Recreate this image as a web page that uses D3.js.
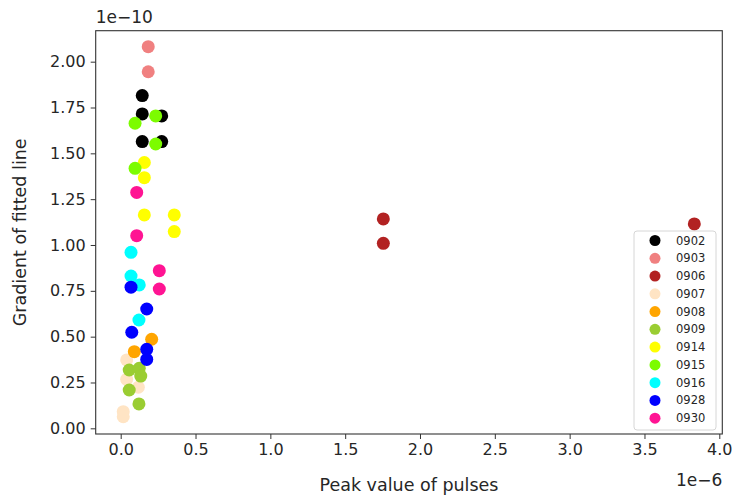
<html>
  <meta charset="utf-8" />
  <script src="https://d3js.org/d3.v7.min.js"></script>
  <style>
    body { margin: 0; background: #fff; }
    text { font-family: "DejaVu Sans", sans-serif; fill: #262626; }
  </style>
  <body>
    <div id="chart"></div>
    <script>
      // dates of each run, one colour per run
      const runs = ["0902", "0903", "0906", "0907", "0908", "0909", "0914", "0915", "0916", "0928", "0930"];
      const colors = ["black", "lightcoral", "firebrick", "bisque", "orange", "yellowgreen", "yellow", "lawngreen", "cyan", "blue", "deeppink"];

      // peak value of pulses (x 1e-6), per run
      const peaks = [
        [0.144, 0.144, 0.274, 0.144, 0.274],
        [0.184, 0.184],
        [1.755, 1.755, 3.833],
        [0.04, 0.04, 0.118, 0.017, 0.017],
        [0.207, 0.091],
        [0.057, 0.124, 0.134, 0.057, 0.122],
        [0.158, 0.158, 0.158, 0.358, 0.358],
        [0.096, 0.234, 0.234, 0.096],
        [0.069, 0.069, 0.124, 0.122],
        [0.069, 0.174, 0.074, 0.174, 0.174],
        [0.107, 0.107, 0.258, 0.258]
      ];
      // gradient of fitted line (x 1e-10), per run
      const gradients = [
        [1.815, 1.715, 1.704, 1.564, 1.564],
        [2.082, 1.945],
        [1.142, 1.009, 1.115],
        [0.373, 0.267, 0.224, 0.091, 0.063],
        [0.486, 0.418],
        [0.318, 0.327, 0.285, 0.209, 0.133],
        [1.45, 1.367, 1.164, 1.164, 1.073],
        [1.664, 1.704, 1.551, 1.418],
        [0.96, 0.831, 0.782, 0.591],
        [0.77, 0.651, 0.524, 0.431, 0.376],
        [1.287, 1.051, 0.86, 0.76]
      ];

      const xTicks = [0, 0.5, 1, 1.5, 2, 2.5, 3, 3.5, 4];
      const yTicks = [0, 0.25, 0.5, 0.75, 1, 1.25, 1.5, 1.75, 2];

      const W = 732, H = 498;
      const plotLeft = 95.7, plotRight = 722.3, plotTop = 30.7, plotBottom = 434;

      const svg = d3.select("#chart").append("svg").attr("width", W).attr("height", H);

      const x = d3.scaleLinear().domain([-0.167, 4.02]).range([plotLeft, plotRight]);
      const y = d3.scaleLinear().domain([-0.031, 2.169]).range([plotBottom, plotTop]);

      // axes
      const xAxis = svg.append("g")
        .attr("transform", `translate(0,${plotBottom})`)
        .call(d3.axisBottom(x).tickValues(xTicks).tickFormat(d3.format(".1f")).tickSize(5).tickPadding(5));
      const yAxis = svg.append("g")
        .attr("transform", `translate(${plotLeft},0)`)
        .call(d3.axisLeft(y).tickValues(yTicks).tickFormat(d3.format(".2f")).tickSize(5).tickPadding(5));
      [xAxis, yAxis].forEach(g => {
        g.select(".domain").remove();
        g.selectAll("line").attr("stroke", "#333");
        g.selectAll("text").attr("font-size", 16).attr("fill", "#262626")
          .style("font-family", "DejaVu Sans, sans-serif");
      });

      // points
      runs.forEach((r, i) => {
        svg.append("g").selectAll("circle")
          .data(d3.zip(peaks[i], gradients[i]))
          .join("circle")
          .attr("cx", d => x(d[0]))
          .attr("cy", d => y(d[1]))
          .attr("r", 6.5)
          .attr("fill", colors[i]);
      });

      // frame
      svg.append("rect")
        .attr("x", plotLeft).attr("y", plotTop)
        .attr("width", plotRight - plotLeft).attr("height", plotBottom - plotTop)
        .attr("fill", "none").attr("stroke", "#333").attr("stroke-width", 1.1);

      // offset texts
      svg.append("text").attr("x", plotLeft).attr("y", 23).attr("font-size", 17).text("1e\u221210");
      svg.append("text").attr("x", plotRight).attr("y", 486).attr("text-anchor", "end").attr("font-size", 17).text("1e\u22126");

      // axis labels
      svg.append("text").attr("x", (plotLeft + plotRight) / 2).attr("y", 491)
        .attr("text-anchor", "middle").attr("font-size", 17.5).text("Peak value of pulses");
      svg.append("text")
        .attr("transform", `translate(26,${(plotTop + plotBottom) / 2}) rotate(-90)`)
        .attr("text-anchor", "middle").attr("font-size", 17.5).text("Gradient of fitted line");

      // legend
      const legend = svg.append("g").attr("transform", "translate(634,231)");
      legend.append("rect")
        .attr("width", 82).attr("height", 199).attr("rx", 3)
        .attr("fill", "white").attr("fill-opacity", 0.8)
        .attr("stroke", "#d6d6d6");
      runs.forEach((r, i) => {
        legend.append("circle").attr("cx", 21).attr("cy", 9.5 + i * 17.77).attr("r", 5.5).attr("fill", colors[i]);
        legend.append("text").attr("x", 42).attr("y", 9.5 + i * 17.77 + 4)
          .attr("font-size", 11.5).text(r);
      });
    </script>
  </body>
</html>
